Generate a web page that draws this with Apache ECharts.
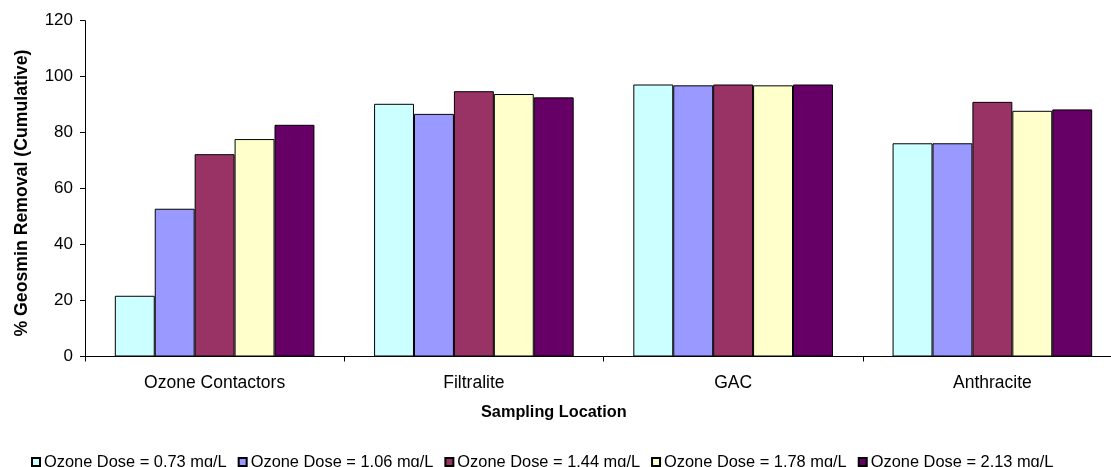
<!DOCTYPE html>
<html>
<head>
<meta charset="utf-8">
<script src="https://cdn.jsdelivr.net/npm/echarts@6/dist/echarts.min.js"></script>
<style>
  html, body { margin: 0; padding: 0; background: #fff; overflow: hidden; }
  /* canvas is a little wider than the window so the last category runs off the right edge */
  #chart { width: 1122px; height: 467px; }
</style>
</head>
<body>
<div id="chart"></div>
<script>
// Sampling locations along the treatment train
const categories = ['Ozone Contactors', 'Filtralite', 'GAC', 'Anthracite'];

// Cumulative geosmin removal (%) for each applied ozone dose
const dose073 = [21.7, 90.3, 97.2, 76.2];
const dose106 = [52.8, 86.7, 96.9, 76.2];
const dose144 = [72.3, 94.8, 97.2, 91.0];
const dose178 = [77.7, 93.8, 96.9, 87.8];
const dose213 = [82.8, 92.6, 97.2, 88.3];

const seriesNames = [
  'Ozone Dose = 0.73 mg/L',
  'Ozone Dose = 1.06 mg/L',
  'Ozone Dose = 1.44 mg/L',
  'Ozone Dose = 1.78 mg/L',
  'Ozone Dose = 2.13 mg/L'
];
const seriesValues = [dose073, dose106, dose144, dose178, dose213];
const seriesColors = ['#CCFFFF', '#9999FF', '#993366', '#FFFFCC', '#660066'];

const yTicks = { min: 0, max: 120, interval: 20 };

const font = 'Liberation Sans, Arial, sans-serif';

const chart = echarts.init(document.getElementById('chart'), null, { renderer: 'canvas' });

chart.setOption({
  animation: false,
  backgroundColor: '#ffffff',
  textStyle: { fontFamily: font, color: '#000' },
  title: {
    text: 'Sampling Location',
    left: 481,
    top: 405,
    padding: 0,
    textStyle: { fontFamily: font, fontSize: 16.3, fontWeight: 'bold', color: '#000' }
  },
  grid: { left: 85, right: 0, top: 20.7, bottom: 110.5, containLabel: false },
  legend: {
    data: seriesNames,
    left: 31,
    top: 454,
    padding: 0,
    icon: 'rect',
    itemWidth: 8,
    itemHeight: 8,
    itemGap: 11,
    textStyle: { fontFamily: font, fontSize: 16.4, color: '#000', padding: [0, 0, 0, -1] }
  },
  xAxis: {
    type: 'category',
    data: categories,
    axisLine: { lineStyle: { color: '#000', width: 1 } },
    axisTick: { show: true, length: 5, lineStyle: { color: '#000' } },
    axisLabel: { color: '#000', fontSize: 17.5, fontFamily: font, margin: 18 },
    splitLine: { show: false }
  },
  yAxis: {
    type: 'value',
    min: yTicks.min,
    max: yTicks.max,
    interval: yTicks.interval,
    name: '% Geosmin Removal (Cumulative)',
    nameLocation: 'middle',
    nameGap: 54,
    nameTextStyle: { fontFamily: font, fontSize: 17.7, fontWeight: 'bold', color: '#000', padding: [0, 9, 0, 0] },
    axisLine: { show: true, lineStyle: { color: '#000', width: 1 } },
    axisTick: { show: true, length: 5, lineStyle: { color: '#000' } },
    axisLabel: { color: '#000', fontSize: 17, fontFamily: font, margin: 12 },
    splitLine: { show: false }
  },
  series: seriesNames.map((name, i) => ({
    name,
    type: 'bar',
    data: seriesValues[i],
    barGap: '0%',
    barCategoryGap: '23%',
    itemStyle: { color: seriesColors[i], borderColor: '#000', borderWidth: 1 }
  }))
});
</script>
</body>
</html>
